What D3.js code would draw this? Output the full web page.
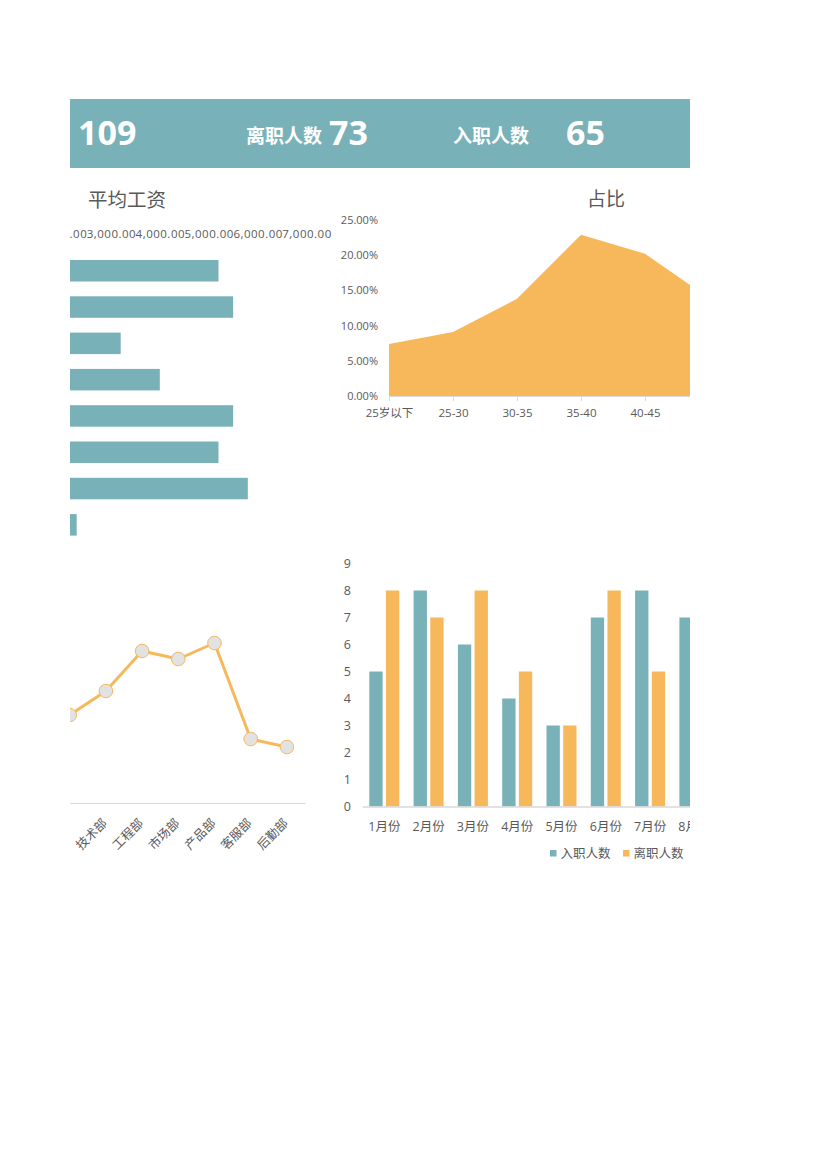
<!DOCTYPE html>
<html>
<head>
<meta charset="utf-8">
<script src="https://cdn.jsdelivr.net/npm/d3@7"></script>
<style>
  body { margin: 0; background: #fff; }
  svg { display: block; }
</style>
</head>
<body>
<div class="canvas"></div>
<script>
// kpi strip (the first label sits off the visible sheet)
const kpiLabels = ['', '离职人数', '入职人数']
const kpiValues = [109, 73, 65]

// departments (salary bars + headcount line)
const depts = ['人事部', '财务部', '技术部', '工程部', '市场部', '产品部', '客服部', '后勤部']
const salary = [5200, 5500, 3200, 4000, 5500, 5200, 5800, 2300]
const salaryTicks = [2000, 3000, 4000, 5000, 6000, 7000]
const headcount = [12, 11, 14, 19, 18, 20, 8, 7]

// age share
const ageGroups = ['25岁以下', '25-30', '30-35', '35-40', '40-45', '45-50']
const agePct = [0.074, 0.091, 0.138, 0.229, 0.202, 0.139]
const pctTicks = [0, 0.05, 0.10, 0.15, 0.20, 0.25]

// monthly in / out
const months = ['1月份', '2月份', '3月份', '4月份', '5月份', '6月份', '7月份', '8月份']
const series = ['入职人数', '离职人数']
const hired = [5, 8, 6, 4, 3, 7, 8, 7]
const left = [8, 7, 8, 5, 3, 8, 5, 6]
const countTicks = [0, 1, 2, 3, 4, 5, 6, 7, 8, 9]

const teal = '#78B1B8'
const orange = '#F6B85A'
const grey = '#595959'
const lineGrey = '#D9D9D9'
const font = '"Open Sans", "Noto Sans CJK SC", sans-serif'

const svg = d3.select('.canvas')
  .append('svg')
    .attr('width', 827)
    .attr('height', 1170)
    .attr('font-family', font)

// the sheet is cut off left and right
svg.append('clipPath')
    .attr('id', 'sheet')
  .append('rect')
    .attr('x', 70)
    .attr('y', 0)
    .attr('width', 620)
    .attr('height', 1170)

const sheet = svg.append('g')
  .attr('clip-path', 'url(#sheet)')

// ---- header strip
sheet.append('rect')
  .attr('x', 0)
  .attr('y', 99)
  .attr('width', 827)
  .attr('height', 69)
  .attr('fill', teal)

const labelX = [0, 246, 453]
const valueX = [78, 329, 566]

sheet.selectAll('.kpi-label')
  .data(kpiLabels.filter(d => d))
  .enter()
  .append('text')
    .attr('class', 'kpi-label')
    .attr('x', d => labelX[kpiLabels.indexOf(d)])
    .attr('y', 143)
    .attr('fill', '#fff')
    .attr('font-size', 19)
    .attr('font-weight', 'bold')
    .text(d => d)

sheet.selectAll('.kpi-value')
  .data(kpiValues)
  .enter()
  .append('text')
    .attr('class', 'kpi-value')
    .attr('x', (d, i) => valueX[i])
    .attr('y', 145)
    .attr('fill', '#fff')
    .attr('font-size', 34)
    .attr('font-weight', 'bold')
    .text(d => d)

// ---- 平均工资
sheet.append('text')
  .attr('x', 88)
  .attr('y', 207)
  .attr('fill', grey)
  .attr('font-size', 19.5)
  .text('平均工资')

const xSal = d3.scaleLinear()
  .domain([0, 7000])
  .range([-35.8, 306.5])

const ySal = d3.scaleBand()
  .domain(depts)
  .range([252.6, 543])
  .paddingInner(0.408)
  .paddingOuter(0.204)

sheet.append('g')
  .selectAll('rect')
  .data(salary)
  .enter()
  .append('rect')
    .attr('x', xSal(0))
    .attr('y', (d, i) => ySal(depts[i]))
    .attr('width', d => xSal(d) - xSal(0))
    .attr('height', ySal.bandwidth())
    .attr('fill', teal)

const salAxis = sheet.append('g')
  .attr('transform', 'translate(0, 241)')
  .call(d3.axisTop(xSal).tickValues(salaryTicks).tickFormat(d3.format(',.2f')).tickSize(0).tickPadding(3))
salAxis.select('.domain').remove()
salAxis.attr('font-family', font).attr('font-size', 11.5)
salAxis.selectAll('text')
  .attr('fill', grey)
  .attr('letter-spacing', 0.5)

// ---- 占比
sheet.append('text')
  .attr('x', 587)
  .attr('y', 206)
  .attr('fill', grey)
  .attr('font-size', 19)
  .text('占比')

const xAge = d3.scalePoint()
  .domain(ageGroups)
  .range([389, 389 + 64 * (ageGroups.length - 1)])

const yAge = d3.scaleLinear()
  .domain([0, 0.25])
  .range([396, 220])

const ageXAxis = sheet.append('g')
  .attr('transform', 'translate(0, 396)')
  .call(d3.axisBottom(xAge).tickSize(5).tickSizeOuter(0).tickPadding(7.8))
ageXAxis.attr('font-family', font).attr('font-size', 11.5)
ageXAxis.selectAll('.domain, line').attr('stroke', lineGrey)
ageXAxis.selectAll('text').attr('fill', grey)

sheet.append('path')
  .datum(agePct)
  .attr('fill', orange)
  .attr('d', d3.area()
    .x((d, i) => xAge(ageGroups[i]))
    .y0(yAge(0))
    .y1(d => yAge(d)))

const ageYAxis = sheet.append('g')
  .attr('transform', 'translate(378, 0)')
  .call(d3.axisLeft(yAge).tickValues(pctTicks).tickFormat(d3.format('.2%')).tickSize(0).tickPadding(0))
ageYAxis.select('.domain').remove()
ageYAxis.attr('font-family', font).attr('font-size', 11)
ageYAxis.selectAll('text').attr('fill', grey)

// ---- headcount by department
const xDept = d3.scaleBand()
  .domain(depts)
  .range([15.4, 305])

const yHead = d3.scaleLinear()
  .domain([0, 25])
  .range([803, 603])

const deptAxis = sheet.append('g')
  .attr('transform', 'translate(0, 803)')
  .call(d3.axisBottom(xDept).tickSize(0).tickSizeOuter(0))
deptAxis.attr('font-family', font).attr('font-size', 12.5)
deptAxis.select('.domain').attr('stroke', lineGrey)
deptAxis.selectAll('.tick')
  .filter(d => xDept(d) + xDept.bandwidth() / 2 < 60)
  .remove()
deptAxis.selectAll('text')
  .attr('fill', grey)
  .attr('y', null)
  .attr('dy', null)
  .attr('text-anchor', 'end')
  .attr('transform', 'translate(2, 21) rotate(-45)')

const cx = (d, i) => xDept(depts[i]) + xDept.bandwidth() / 2

sheet.append('path')
  .datum(headcount)
  .attr('fill', 'none')
  .attr('stroke', orange)
  .attr('stroke-width', 3)
  .attr('stroke-linejoin', 'round')
  .attr('d', d3.line().x(cx).y(d => yHead(d)))

sheet.append('g')
  .selectAll('circle')
  .data(headcount)
  .enter()
  .append('circle')
    .attr('cx', cx)
    .attr('cy', d => yHead(d))
    .attr('r', 6.8)
    .attr('fill', '#E2E2E2')
    .attr('stroke', orange)
    .attr('stroke-width', 1)

// ---- monthly columns
const x0 = d3.scaleBand()
  .domain(months)
  .range([362.2, 362.2 + 44.3 * months.length])

const x1 = d3.scaleBand()
  .domain(series)
  .range([7.1, 37.1])
  .paddingInner(0.2)

const yCnt = d3.scaleLinear()
  .domain([0, 9])
  .range([806.5, 563.5])

const cntYAxis = sheet.append('g')
  .attr('transform', 'translate(351, 0)')
  .call(d3.axisLeft(yCnt).tickValues(countTicks).tickSize(0).tickPadding(0))
cntYAxis.select('.domain').remove()
cntYAxis.attr('font-family', font).attr('font-size', 12.5)
cntYAxis.selectAll('text').attr('fill', grey)

const rows = months.map((m, i) => ({ month: m, values: [hired[i], left[i]] }))

const groups = sheet.append('g')
  .selectAll('g')
  .data(rows)
  .enter()
  .append('g')
    .attr('transform', d => `translate(${x0(d.month)}, 0)`)

groups.selectAll('rect')
  .data(d => d.values)
  .enter()
  .append('rect')
    .attr('x', (d, i) => x1(series[i]))
    .attr('y', d => yCnt(d))
    .attr('width', x1.bandwidth())
    .attr('height', d => yCnt(0) - yCnt(d))
    .attr('fill', (d, i) => i === 0 ? teal : orange)

const monthAxis = sheet.append('g')
  .attr('transform', 'translate(0, 806.5)')
  .call(d3.axisBottom(x0).tickSize(0).tickSizeOuter(0).tickPadding(15.6))
monthAxis.attr('font-family', font).attr('font-size', 12.5)
monthAxis.select('.domain').attr('stroke', lineGrey).attr('stroke-width', 1.5)
monthAxis.selectAll('text').attr('fill', grey)

// legend
const legendX = [550, 623]
const legend = sheet.append('g')
  .selectAll('g')
  .data(series)
  .enter()
  .append('g')
    .attr('transform', (d, i) => `translate(${legendX[i]}, 850)`)

legend.append('rect')
  .attr('width', 6.5)
  .attr('height', 6.5)
  .attr('fill', (d, i) => i === 0 ? teal : orange)

legend.append('text')
  .attr('x', 10.5)
  .attr('y', 7.5)
  .attr('fill', grey)
  .attr('font-size', 12.5)
  .text(d => d)
</script>
</body>
</html>
